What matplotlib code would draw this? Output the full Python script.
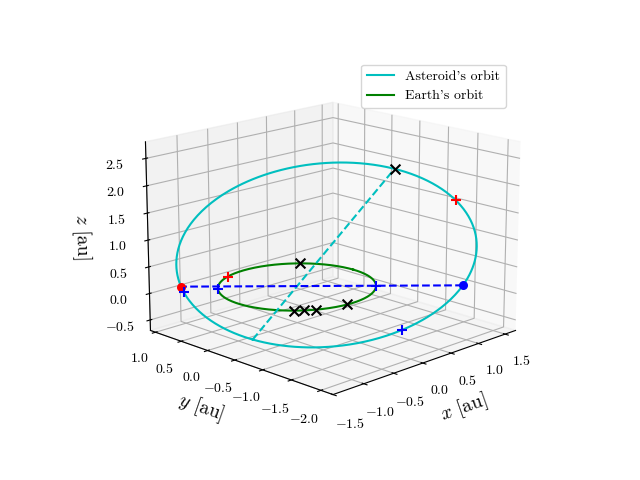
import numpy as np
import matplotlib
matplotlib.use("Agg")
import matplotlib.pyplot as plt

plt.rcParams["font.family"] = "serif"
plt.rcParams["font.serif"] = ["cmr10"]
plt.rcParams["mathtext.fontset"] = "cm"
plt.rcParams["axes.formatter.use_mathtext"] = True

# orbital elements (au, degrees)
a_ast, e_ast, inc_ast, node_ast, peri_ast = 2.1, 0.42, 30.0, -45.0, 245.0
a_earth = 1.0
# marker anomalies (degrees)
ast_cross_nu = [180.0]
ast_plus_red = [158.0]
ast_plus_blue = [80.0, 300.0]
earth_cross_lon = [45.0, 240.0, 265.0, 225.0, 232.0]
earth_plus_red = [110.0]
earth_plus_blue = [140.0, 315.0]


def orbit(a, e, inc, node, peri, nu):
    nu = np.radians(nu)
    r = a * (1 - e**2) / (1 + e * np.cos(nu))
    i, O, w = np.radians([inc, node, peri])
    u = w + nu
    x = r * (np.cos(O) * np.cos(u) - np.sin(O) * np.sin(u) * np.cos(i))
    y = r * (np.sin(O) * np.cos(u) + np.cos(O) * np.sin(u) * np.cos(i))
    z = r * np.sin(u) * np.sin(i)
    return x, y, z


def ast(nu):
    return orbit(a_ast, e_ast, inc_ast, node_ast, peri_ast, np.asarray(nu, dtype=float))


def earth(lon):
    return orbit(a_earth, 0, 0, 0, 0, np.asarray(lon, dtype=float))


fig = plt.figure(figsize=(6.4, 4.8))
ax = fig.add_subplot(projection="3d")
t = np.linspace(0, 360, 400)
ax.plot(*ast(t), color="c", label="Asteroid's orbit")
ax.plot(*earth(t), color="g", label="Earth's orbit")

# apsides line and line of nodes
ax.plot(*ast([0.0, 180.0]), "c--")
ax.plot(*ast([-peri_ast, 180 - peri_ast]), "b--")
xn, yn, zn = ast([-peri_ast, 180 - peri_ast])
ax.scatter(xn[0], yn[0], zn[0], color="b", s=30, depthshade=False)
ax.scatter(xn[1], yn[1], zn[1], color="r", s=30, depthshade=False)

mk = dict(s=50, depthshade=False)
ax.scatter(*ast(ast_cross_nu), marker="x", color="k", **mk)
ax.scatter(*ast(ast_plus_red), marker="+", color="r", **mk)
ax.scatter(*ast(ast_plus_blue), marker="+", color="b", **mk)
ax.scatter(*earth(earth_cross_lon), marker="x", color="k", **mk)
ax.scatter(*earth(earth_plus_red), marker="+", color="r", **mk)
ax.scatter(*earth(earth_plus_blue), marker="+", color="b", **mk)

ax.set_xlim(-1.5, 1.7)
ax.set_ylim(-2.2, 1.1)
ax.set_zlim(-0.7, 2.8)
ax.set_xticks([-1.5, -1.0, -0.5, 0.0, 0.5, 1.0, 1.5])
ax.set_yticks([-2.0, -1.5, -1.0, -0.5, 0.0, 0.5, 1.0])
ax.set_zticks([-0.5, 0.0, 0.5, 1.0, 1.5, 2.0, 2.5])
ax.set_xlabel(r"$x$ [au]", fontsize=14)
ax.set_ylabel(r"$y$ [au]", fontsize=14)
ax.set_zlabel(r"$z$ [au]", fontsize=14)
ax.view_init(elev=16, azim=-135)
ax.set_box_aspect(None, zoom=1.1)
ax.legend(loc="upper right")
plt.savefig("out.png", dpi=100)
